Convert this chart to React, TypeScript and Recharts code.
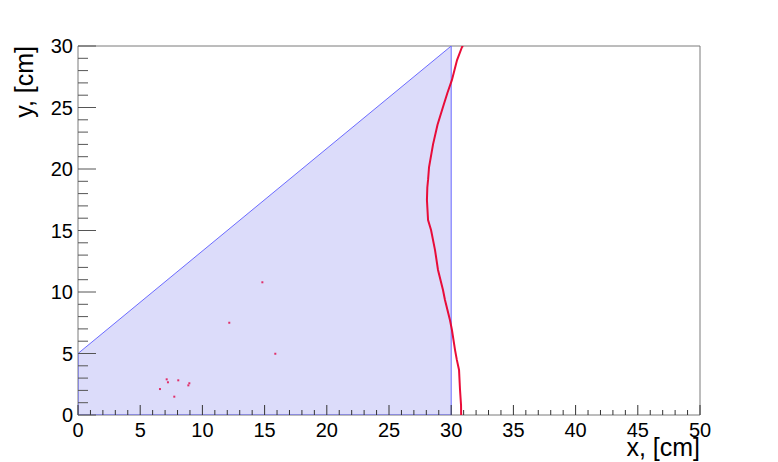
import { ComposedChart, Area, Scatter, XAxis, YAxis, ReferenceLine, Label } from 'recharts'

// blue region: top edge of the filled polygon
const regionX = [0, 30]
const regionTop = [5, 30]
// outline of the polygon, in drawing order
const outlineX = [0, 0, 30, 30, 0]
const outlineY = [0, 5, 30, 0, 0]

// red boundary curve
const curveX = [30.8, 30.79, 30.71, 30.63, 30.45, 30.31, 30.06, 29.9, 29.5, 29.34, 28.94, 28.7, 28.38, 28.14, 28.05, 28.08, 28.14, 28.22, 28.54, 28.9, 29.34, 29.7, 30.06, 30.47, 30.87, 30.95]
const curveY = [0, 0.81, 2.03, 3.66, 4.5, 5.28, 6.91, 7.72, 9.35, 10.16, 11.79, 13.41, 15.04, 15.85, 17.48, 18.5, 19.11, 20.16, 22.0, 23.6, 25.04, 26.2, 27.24, 28.86, 29.92, 30]

// stray hits
const strayX = [7.13, 7.23, 8.06, 8.95, 8.87, 6.59, 7.74, 14.82, 12.16, 15.86]
const strayY = [2.9, 2.66, 2.82, 2.58, 2.41, 2.11, 1.49, 10.79, 7.5, 4.98]

const xMajor = [0, 5, 10, 15, 20, 25, 30, 35, 40, 45, 50]
const yMajor = [0, 5, 10, 15, 20, 25, 30]

const withMinor = (major: number[]) => {
  const out: number[] = []
  for (let i = 0; i < major.length - 1; i++) {
    const step = (major[i + 1] - major[i]) / 5
    for (let k = 0; k < 5; k++) out.push(major[i] + k * step)
  }
  out.push(major[major.length - 1])
  return out
}

const regionData = regionX.map((x, i) => ({ x, top: regionTop[i] }))
const outlineData = outlineX.map((x, i) => ({ x, y: outlineY[i] }))
const curveData = curveX.map((x, i) => ({ x, y: curveY[i] }))
const strayData = strayX.map((x, i) => ({ x, y: strayY[i] }))

const FONT = '"Liberation Sans", Arial, sans-serif'
const AXIS = '#7a7a7a'

function XTick({ x, y, payload }: any) {
  const v = payload.value
  const major = xMajor.includes(v)
  return (
    <g>
      <line x1={x} x2={x} y1={y} y2={y - (major ? 10 : 5)} stroke="#333" strokeWidth={1} />
      {major && (
        <text x={x} y={y + 22} textAnchor="middle" fontSize={20} fontFamily={FONT} fill="#000">
          {v}
        </text>
      )}
    </g>
  )
}

function YTick({ x, y, payload }: any) {
  const v = payload.value
  const major = yMajor.includes(v)
  return (
    <g>
      <line x1={x} x2={x + (major ? 18 : 10)} y1={y} y2={y} stroke="#555" strokeWidth={1} />
      {major && (
        <text x={x - 5} y={y + 7} textAnchor="end" fontSize={20} fontFamily={FONT} fill="#000">
          {v}
        </text>
      )}
    </g>
  )
}

const Hidden = () => <g />
const Dot = (color: string) => (p: any) => <rect x={p.cx - 1} y={p.cy - 1} width={2} height={2} fill={color} />

export default function App() {
  return (
    <div style={{ position: 'absolute', left: 0, top: 0, background: '#fff' }}>
      <ComposedChart
        width={778}
        height={462}
        data={regionData}
        margin={{ top: 46, right: 78, bottom: 17, left: 48 }}
      >
        <XAxis
          dataKey="x"
          type="number"
          domain={[0, 50]}
          ticks={withMinor(xMajor)}
          interval={0}
          height={30}
          tickSize={0}
          tickMargin={0}
          tick={<XTick />}
          axisLine={{ stroke: AXIS }}
          allowDataOverflow
        >
          <Label
            content={({ viewBox }: any) => (
              <text
                x={viewBox.x + viewBox.width}
                y={viewBox.y + 41}
                textAnchor="end"
                fontSize={25}
                fontFamily={FONT}
                fill="#000"
              >
                x, [cm]
              </text>
            )}
          />
        </XAxis>
        <YAxis
          type="number"
          domain={[0, 30]}
          ticks={withMinor(yMajor)}
          interval={0}
          width={30}
          tickSize={0}
          tickMargin={0}
          tick={<YTick />}
          axisLine={{ stroke: AXIS }}
          allowDataOverflow
        >
          <Label
            content={({ viewBox }: any) => (
              <text
                x={viewBox.x - 15}
                y={viewBox.y}
                transform={`rotate(-90, ${viewBox.x - 15}, ${viewBox.y})`}
                textAnchor="end"
                fontSize={25}
                fontFamily={FONT}
                fill="#000"
              >
                y, [cm]
              </text>
            )}
          />
        </YAxis>
        <ReferenceLine y={30} stroke={AXIS} />
        <ReferenceLine x={50} stroke={AXIS} />
        <Area
          type="linear"
          dataKey="top"
          fill="#dcdcfa"
          fillOpacity={1}
          stroke="none"
          isAnimationActive={false}
        />
        <Scatter
          data={outlineData}
          dataKey="y"
          line={{ stroke: '#6b6bff', strokeWidth: 1 }}
          shape={Hidden}
          isAnimationActive={false}
        />
        <Scatter
          data={curveData}
          dataKey="y"
          line={{ stroke: '#e8002e', strokeWidth: 2, strokeOpacity: 0.95 }}
          shape={Hidden}
          isAnimationActive={false}
        />
        <Scatter data={strayData} dataKey="y" shape={Dot('#e0306a')} isAnimationActive={false} />
      </ComposedChart>
    </div>
  )
}
